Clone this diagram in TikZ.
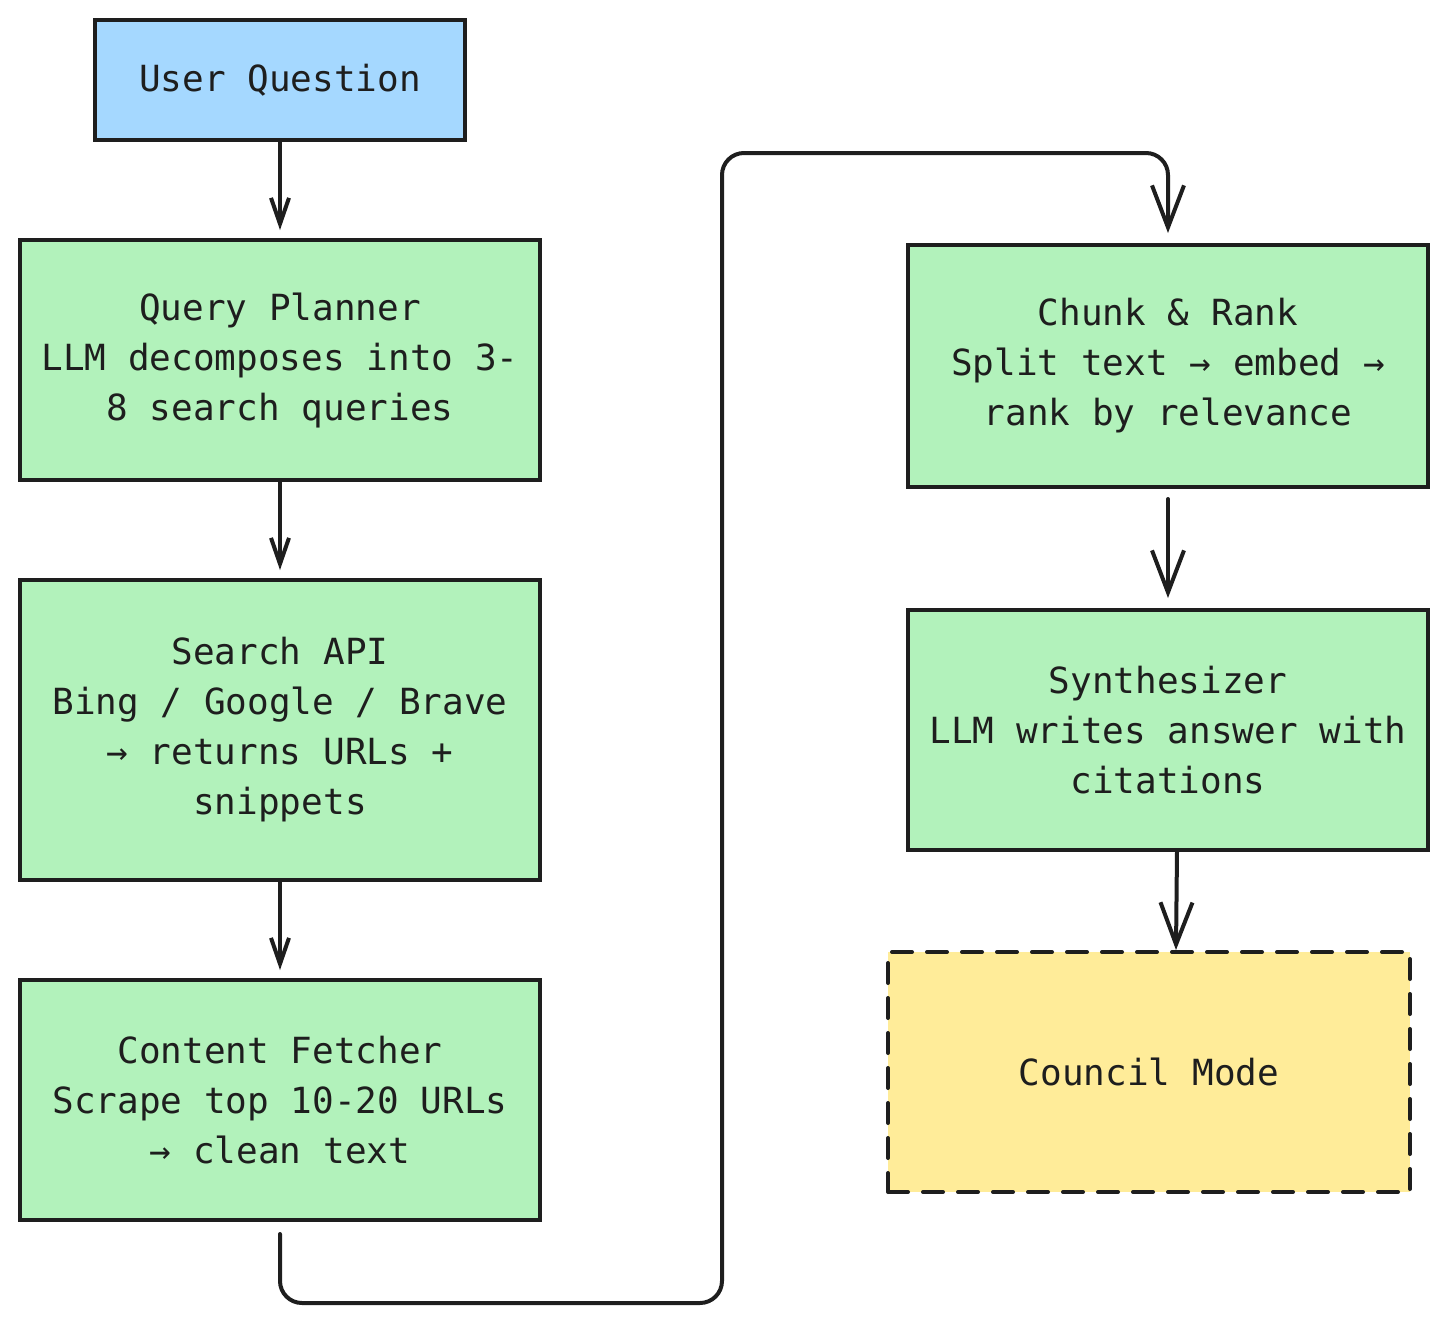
\documentclass[tikz,border=0pt]{standalone}
\usepackage{fontspec}
\usepackage{tikz}
\usetikzlibrary{arrows.meta}
\newfontfamily\handfont{DejaVu Sans Mono}
\definecolor{ink}{HTML}{1E1E1E}
\definecolor{askblue}{HTML}{A5D8FF}
\definecolor{stepgreen}{HTML}{B2F2BB}
\definecolor{councilyellow}{HTML}{FFEC99}
\tikzset{
  box/.style={draw=ink,line width=2pt,align=center,inner sep=2pt,
    font=\handfont\fontsize{18}{25}\selectfont,text=ink},
  stage/.style={box,fill=stepgreen,minimum width=260pt,minimum height=120pt},
  arrS/.style={draw=ink,line width=2pt,line cap=round,-{Straight Barb[length=13pt,width=9pt,line width=2pt]}},
  arrL/.style={draw=ink,line width=2pt,line cap=round,-{Straight Barb[length=21pt,width=16pt,line width=2pt]}}
}
\begin{document}
\begin{tikzpicture}[x=0.5pt,y=-0.5pt]
\useasboundingbox (0,0) rectangle (1448,1324);
\node[box,fill=askblue,minimum width=185pt,minimum height=60pt] (question) at (280,80) {User Question};
\node[stage] (planner) at (280,360) {Query Planner\\LLM decomposes into 3-\\8 search queries};
\node[stage,minimum height=150pt] (search) at (280,730) {Search API\\Bing / Google / Brave\\→ returns URLs +\\snippets};
\node[stage] (fetcher) at (280,1100) {Content Fetcher\\Scrape top 10-20 URLs\\→ clean text};
\node[stage,minimum height=121pt] (rank) at (1168,366) {Chunk \& Rank\\Split text → embed →\\rank by relevance};
\node[stage] (synth) at (1168,730) {Synthesizer\\LLM writes answer with\\citations};
\node[box,fill=councilyellow,dashed,dash pattern=on 10pt off 7.5pt,line cap=round,minimum width=261pt,minimum height=120pt] (council) at (1149,1072) {Council Mode};
\draw[arrS,shorten >=4pt] (question) -- (planner);
\draw[arrS,shorten >=4pt] (planner) -- (search);
\draw[arrS,shorten >=4pt] (search) -- (fetcher);
\draw[arrL,rounded corners=11pt,shorten <=6pt,shorten >=5pt] (fetcher.south) |- (722,1303) -- (722,153) -| (rank.north);
\draw[arrL,shorten <=5pt,shorten >=5pt] (rank) -- (synth);
\draw[arrL] ([xshift=4.5pt]synth.south) -- ([xshift=13.5pt]council.north);
\end{tikzpicture}
\end{document}
